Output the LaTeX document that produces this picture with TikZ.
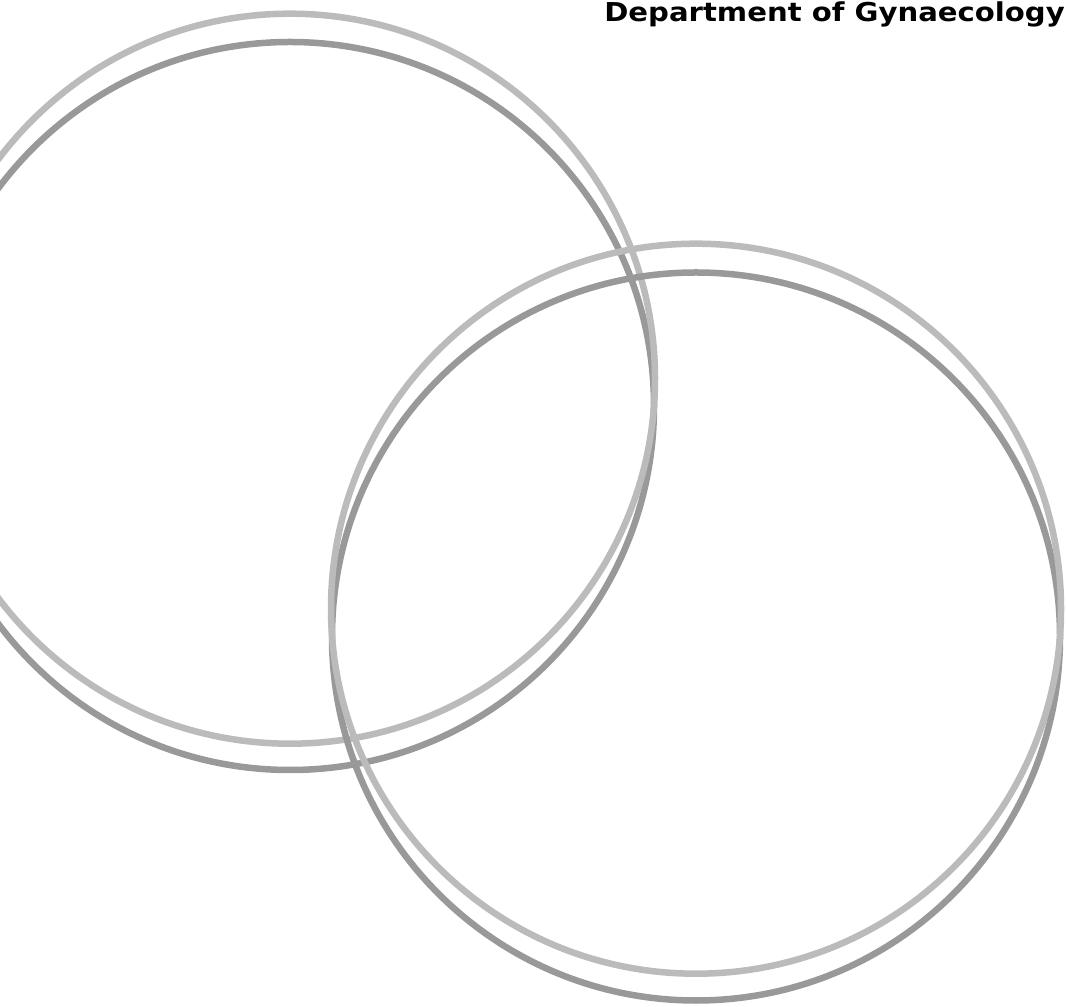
\documentclass[tikz,border=0pt]{standalone}
\usepackage{fontspec}
\setmainfont{DejaVu Sans}
\usepackage{tikz}
\definecolor{ringlight}{HTML}{BBBBBB}
\definecolor{ringdark}{HTML}{999999}
\begin{document}
\begin{tikzpicture}[x=1pt,y=1pt]
      \useasboundingbox (0,0) rectangle (1067,1006);
      \tikzstyle {lightring} = [draw=ringlight, line width=6.5pt];
      \tikzstyle {darkring} = [draw=ringdark, line width=6.5pt];
      \draw [darkring] (290,600) circle (364);
      \draw [lightring] (290,627.3) circle (365);
      \draw [darkring] (696,369.5) circle (364);
      \draw [lightring] (696,397.3) circle (365);
      \node (title) [anchor=base east, inner sep=0pt, xscale=1.12, font=\fontsize{26}{31}\selectfont\bfseries] at (1065,984.7) {Department of Gynaecology};
    \end{tikzpicture}
\end{document}
